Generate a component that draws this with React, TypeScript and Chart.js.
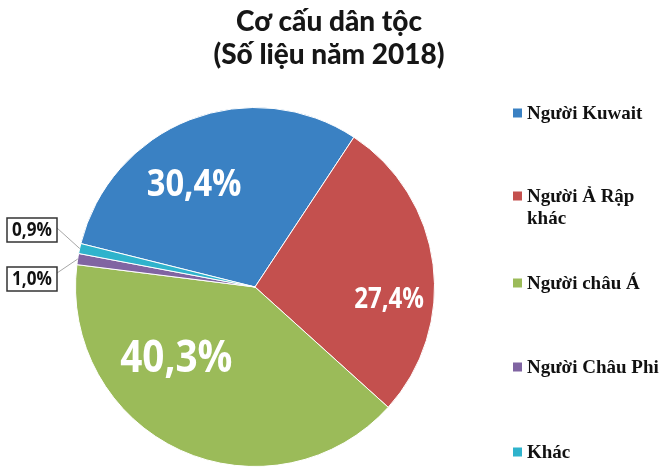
import React, { useEffect, useRef } from "react";
import { Chart, registerables } from "chart.js";

Chart.register(...registerables);

const categories = ["Người Kuwait", "Người Ả Rập khác", "Người châu Á", "Người Châu Phi", "Khác"];
const legendLines = [["Người Kuwait"], ["Người Ả Rập", "khác"], ["Người châu Á"], ["Người Châu Phi"], ["Khác"]];
const values = [30.4, 27.4, 40.3, 1.0, 0.9];
const valueLabels = ["30,4%", "27,4%", "40,3%", "1,0%", "0,9%"];
const titleLines = ["Cơ cấu dân tộc", "(Số liệu năm 2018)"];

const colors = ["#3a81c3", "#c4504e", "#9bbb59", "#8064a2", "#2fb3cc"];

// label styles: inside labels (polar angle deg from top, radius fraction, font size) / outside boxes
const insideStyle = [
  { angle: -30.4, frac: 0.67, size: 38 },
  { angle: 95.1, frac: 0.75, size: 28 },
  { angle: 228, frac: 0.59, size: 45 },
];
const outsideStyle: Record<number, { bx: number; by: number; ly: number }> = {
  3: { bx: 32, by: 279, ly: 273 },
  4: { bx: 32, by: 230, ly: 228 },
};
const legendY = [113, 196, 283, 367, 452];

const labelPlugin = {
  id: "customDraw",
  afterDraw(chart: any) {
    const ctx = chart.ctx as CanvasRenderingContext2D;
    const meta = chart.getDatasetMeta(0);
    const arc0 = meta.data[0];
    const cx = arc0.x;
    const cy = arc0.y;
    const r = arc0.outerRadius;

    // title
    ctx.save();
    ctx.fillStyle = "#161616";
    ctx.textAlign = "center";
    ctx.textBaseline = "alphabetic";
    ctx.font = "900 28px Lato";
    ctx.fillText(titleLines[0], 329, 31);
    ctx.fillText(titleLines[1], 329, 64);
    ctx.restore();

    // inside labels
    insideStyle.forEach((s, i) => {
      const a = (s.angle * Math.PI) / 180;
      const x = cx + Math.sin(a) * r * s.frac;
      const y = cy - Math.cos(a) * r * s.frac;
      ctx.save();
      ctx.translate(x, y);
      ctx.scale(0.86, 1);
      ctx.fillStyle = "#ffffff";
      ctx.textAlign = "center";
      ctx.textBaseline = "middle";
      ctx.font = `bold ${s.size}px "Open Sans"`;
      ctx.fillText(valueLabels[i], 0, s.size * 0.04);
      ctx.restore();
    });

    // outside labels with boxes and leader lines
    Object.keys(outsideStyle).forEach((k) => {
      const i = Number(k);
      const s = outsideStyle[i];
      const arc = meta.data[i];
      const mid = (arc.startAngle + arc.endAngle) / 2;
      const ex = cx + Math.cos(mid) * r;
      const ey = cy + Math.sin(mid) * r;
      const bw = 50;
      const bh = 24;
      ctx.save();
      ctx.strokeStyle = "#a6a6a6";
      ctx.lineWidth = 1;
      ctx.beginPath();
      ctx.moveTo(s.bx + bw / 2, s.ly);
      ctx.lineTo(ex, ey);
      ctx.stroke();
      ctx.fillStyle = "#ffffff";
      ctx.fillRect(s.bx - bw / 2, s.by - bh / 2, bw, bh);
      ctx.strokeStyle = "#333333";
      ctx.lineWidth = 1.5;
      ctx.strokeRect(s.bx - bw / 2, s.by - bh / 2, bw, bh);
      ctx.fillStyle = "#111111";
      ctx.textAlign = "center";
      ctx.textBaseline = "middle";
      ctx.translate(s.bx, s.by + 1);
      ctx.scale(0.9, 1);
      ctx.font = 'bold 19px "Open Sans"';
      ctx.fillText(valueLabels[i], 0, 0);
      ctx.restore();
    });

    // legend
    ctx.save();
    ctx.textAlign = "left";
    ctx.textBaseline = "middle";
    ctx.font = 'bold 19px "Liberation Serif"';
    legendLines.forEach((lines, i) => {
      const y = legendY[i];
      ctx.fillStyle = colors[i];
      ctx.fillRect(513, y - 4.5, 9, 9);
      ctx.fillStyle = "#111111";
      lines.forEach((t, j) => {
        ctx.fillText(t, 527, y + 1 + j * 22);
      });
    });
    ctx.restore();
  },
};

export default function App() {
  const ref = useRef<HTMLCanvasElement | null>(null);
  useEffect(() => {
    if (!ref.current) return;
    const chart = new Chart(ref.current, {
      type: "pie",
      data: {
        labels: categories,
        datasets: [
          {
            data: values,
            backgroundColor: colors,
            borderColor: "#ffffff",
            borderWidth: 1,
          },
        ],
      },
      options: {
        animation: false,
        responsive: false,
        rotation: -76,
        layout: { padding: { left: 75, right: 229, top: 107, bottom: 2 } },
        plugins: {
          legend: { display: false },
          title: { display: false },
          tooltip: { enabled: false },
        },
      },
      plugins: [labelPlugin],
    });
    return () => chart.destroy();
  }, []);
  return (
    <div style={{ position: "fixed", left: 0, top: 0, width: 664, height: 469, background: "#fff" }}>
      <canvas ref={ref} width={664} height={469} />
    </div>
  );
}
